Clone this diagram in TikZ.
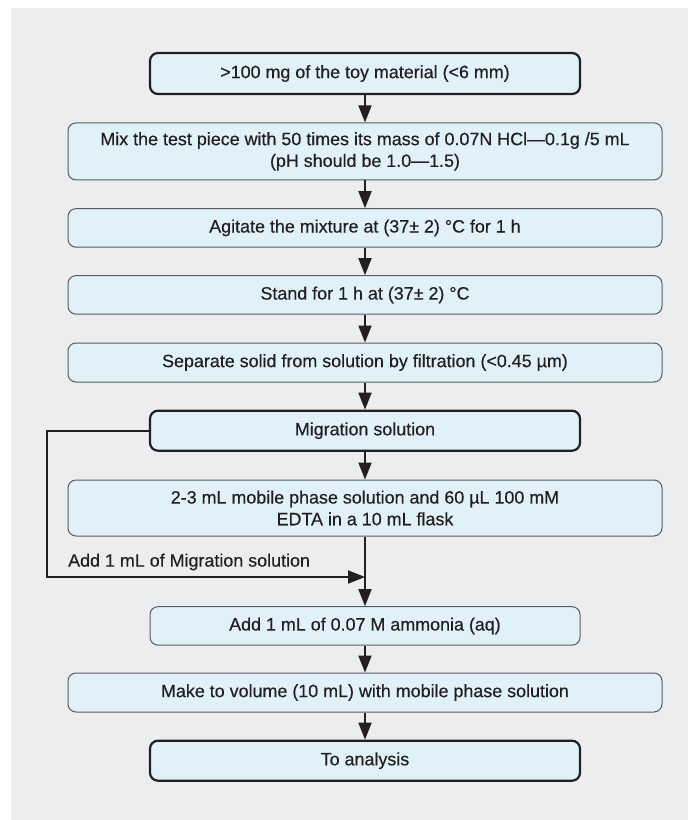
\documentclass[tikz,border=0pt]{standalone}
\usepackage{fontspec}
\setmainfont{Liberation Sans}[FakeBold=0.4]
\usetikzlibrary{arrows.meta}
\definecolor{panel}{HTML}{ECEDEF}
\definecolor{boxfill}{HTML}{E1F1FA}
\definecolor{ink}{HTML}{231F20}
\definecolor{thinborder}{HTML}{5A5A5A}
\begin{document}
\begin{tikzpicture}[x=1pt,y=-1pt,
  every node/.style={font=\fontsize{17.9}{21.7}\selectfont, text=ink},
  boldbox/.style={draw=ink, line width=2.2pt, fill=boxfill, rounded corners=8pt,
     minimum width=430pt, inner sep=0pt, align=center},
  widebox/.style={draw=thinborder, line width=1pt, fill=boxfill, rounded corners=8pt,
     minimum width=594pt, inner sep=0pt, align=center},
  midbox/.style={draw=thinborder, line width=1pt, fill=boxfill, rounded corners=8pt,
     minimum width=430pt, inner sep=0pt, align=center},
  conn/.style={draw=ink, line width=2pt, -{Triangle[length=17pt,width=13pt]}}
]
\useasboundingbox (0,0) rectangle (688,820);
\fill[white] (0,0) rectangle (688,820);
\fill[panel] (11,8) rectangle (688,820);

\node[boldbox, minimum height=41pt] (b1) at (365,73.5) {>100 mg of the toy material (<6 mm)};
\node[widebox, minimum height=57pt] (b2) at (365,151.4) {Mix the test piece with 50 times its mass of 0.07N HCl—0.1g /5 mL\\(pH should be 1.0—1.5)};
\node[widebox, minimum height=38.5pt] (b3) at (365,227.9) {Agitate the mixture at (37± 2) °C for 1 h};
\node[widebox, minimum height=38.5pt] (b4) at (365,294.9) {Stand for 1 h at (37± 2) °C};
\node[widebox, minimum height=39pt] (b5) at (365,362.5) {Separate solid from solution by filtration (<0.45 µm)};
\node[boldbox, minimum height=40pt] (b6) at (365,430.7) {Migration solution};
\node[widebox, minimum height=56pt] (b7) at (365,508) {2-3 mL mobile phase solution and 60 µL 100 mM\\EDTA in a 10 mL flask};
\node[midbox, minimum height=38.5pt] (b8) at (365,625.9) {Add 1 mL of 0.07 M ammonia (aq)};
\node[widebox, minimum height=39pt] (b9) at (365,692.5) {Make to volume (10 mL) with mobile phase solution};
\node[boldbox, minimum height=40pt] (b10) at (365,760.7) {To analysis};

\node[anchor=west, inner sep=0pt] (lab) at (68,562) {Add 1 mL of Migration solution};

\coordinate (c1) at (47,430.7);
\coordinate (c2) at (47,577);
\coordinate (m) at (365,577);

\draw[conn] (b1) -- (b2);
\draw[conn] (b2) -- (b3);
\draw[conn] (b3) -- (b4);
\draw[conn] (b4) -- (b5);
\draw[conn] (b5) -- (b6);
\draw[conn] (b6) -- (b7);
\draw[conn] (b7) -- (b8);
\draw[conn] (b8) -- (b9);
\draw[conn] (b9) -- (b10);
\draw[conn] (b6.west) -- (c1) -- (c2) -- (m);
\end{tikzpicture}
\end{document}
